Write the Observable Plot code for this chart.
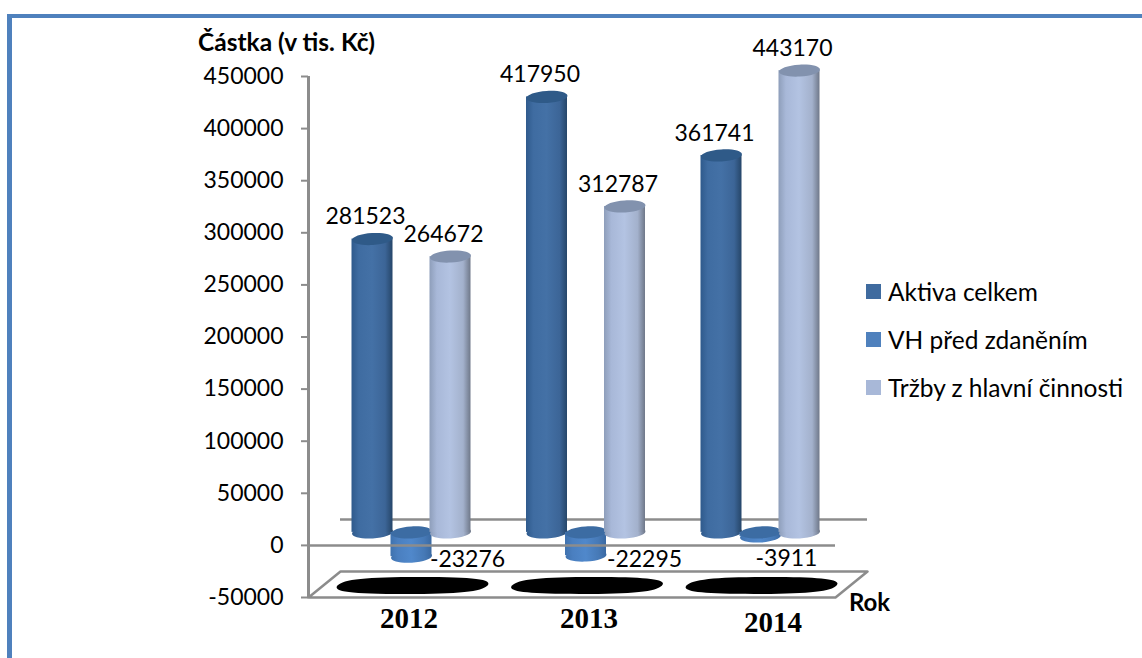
<!DOCTYPE html>
<html lang="cs">
<head>
<meta charset="utf-8">
<script src="https://cdn.jsdelivr.net/npm/d3@7"></script>
<script src="https://cdn.jsdelivr.net/npm/@observablehq/plot@0.6"></script>
<style>
  html, body { margin: 0; padding: 0; background: #fff; }
  #page { position: relative; width: 1142px; height: 658px; overflow: hidden; font-family: Lato, sans-serif; color: #000; }
  #border { position: absolute; left: 7px; top: 14px; right: -10px; bottom: -10px; border-style: solid; border-color: #4f81bd; border-width: 4px 5px 5px 5px; }
  #chart { position: absolute; left: 0; top: 0; }
  #legend { position: absolute; left: 866px; top: 267px; font-size: 24.5px; white-space: nowrap; }
  #legend div { display: flex; align-items: center; height: 48px; }
  #legend span { display: block; width: 15px; height: 15px; margin-right: 7px; }
</style>
</head>
<body>
<div id="page"><div id="border"></div><div id="chart"></div><div id="legend"></div></div>
<script>
// Company results per year, in thousands of CZK
const years = [2012, 2013, 2014];
const seriesNames = ["Aktiva celkem", "VH před zdaněním", "Tržby z hlavní činnosti"];
const aktiva = [281523, 417950, 361741];
const vh = [-23276, -22295, -3911];
const trzby = [264672, 312787, 443170];
const yTicks = [-50000, 0, 50000, 100000, 150000, 200000, 250000, 300000, 350000, 400000, 450000];

// Appearance of each series: body gradient stops, cap colour, legend swatch
const looks = [
  {stops: ["#2f5a8c", "#3f6ca1", "#4471a6", "#3c6597", "#264669"], cap: "#2f5a88", swatch: "#3f6b9f"},
  {stops: ["#3f72ae", "#4a7fc0", "#5088cb", "#4679b6", "#3a69a2"], cap: "#3c6ca3", swatch: "#4f81bd"},
  {stops: ["#8e9eba", "#a8b8d8", "#b3c3e2", "#a3b1cc", "#6f7889"], cap: "#8292ae", swatch: "#a8b8d8"}
];
const stopOffsets = [0, 0.18, 0.5, 0.82, 1];

// One cluster per year: position along x is the year plus a slot offset per series
const yearStep = 174.5;
const slot = 39 / yearStep;
const half = 20.5 / yearStep;
const values = [aktiva, vh, trzby];
const xAt = (px) => 2012 + (px - 411) / yearStep;

// Label offsets in pixels from the end of each cylinder, by series then year
const labelShift = [
  [[-7, -35], [-7, -35], [-7, -35]],
  [[56, -10], [58.5, -9], [26, 9]],
  [[-7, -35], [-7, -35], [-7, -35]]
];
const yearShift = [[-2.5, 21], [3, 21], [12.5, 25]];
const depth = -13; // the cylinders stand behind the front zero line

const rows = values.flatMap((vals, s) => vals.map((value, i) => ({
  year: years[i], s, value, x: years[i] + (s - 1) * slot, shift: labelShift[s][i]
})));

// Flattened disc, slightly tilted, for the cylinder ends
function disc(rx, ry, tilt) {
  const c = Math.cos(tilt), s = Math.sin(tilt), k = 0.5523;
  const p = (x, y) => [x * c - y * s, x * s + y * c];
  return {
    draw(ctx) {
      ctx.moveTo(...p(rx, 0));
      ctx.bezierCurveTo(...p(rx, k * ry), ...p(k * rx, ry), ...p(0, ry));
      ctx.bezierCurveTo(...p(-k * rx, ry), ...p(-rx, k * ry), ...p(-rx, 0));
      ctx.bezierCurveTo(...p(-rx, -k * ry), ...p(-k * rx, -ry), ...p(0, -ry));
      ctx.bezierCurveTo(...p(k * rx, -ry), ...p(rx, -k * ry), ...p(rx, 0));
      ctx.closePath();
    }
  };
}

// Skewed blob for the smudged labels lying on the floor
function smudge(rx, ry, skew) {
  const k = 0.72;
  const p = (x, y) => [x - y * skew, y];
  return {
    draw(ctx) {
      ctx.moveTo(...p(rx, 0));
      ctx.bezierCurveTo(...p(rx, k * ry), ...p(k * rx, ry), ...p(0, ry));
      ctx.bezierCurveTo(...p(-k * rx, ry), ...p(-rx, k * ry), ...p(-rx, 0));
      ctx.bezierCurveTo(...p(-rx, -k * ry), ...p(-k * rx, -ry), ...p(0, -ry));
      ctx.bezierCurveTo(...p(k * rx, -ry), ...p(rx, -k * ry), ...p(rx, 0));
      ctx.closePath();
    }
  };
}

function gradients() {
  const defs = d3.create("svg:defs");
  looks.forEach((look, i) => {
    const g = defs.append("linearGradient").attr("id", `body${i}`);
    stopOffsets.forEach((o, j) => g.append("stop").attr("offset", o).attr("stop-color", look.stops[j]));
  });
  return defs.node();
}

const grey = "#8c8c8c";
const end = disc(20.5, 6, -0.06);
const rowsOf = (s) => rows.filter((d) => d.s === s);

// Cylinder: lower disc and body in the gradient, cap on the upper end
const cylinder = (s) => {
  const data = rowsOf(s);
  const body = `url(#body${s})`;
  const lower = (d) => Math.min(0, d.value);
  const upper = (d) => Math.max(0, d.value);
  return [
    Plot.dot(data, {x: "x", y: lower, symbol: end, fill: body, dy: depth}),
    Plot.rect(data, {x1: (d) => d.x - half, x2: (d) => d.x + half, y1: lower, y2: upper, fill: body, dy: depth}),
    Plot.dot(data, {x: "x", y: upper, symbol: end, fill: looks[s].cap, dy: depth})
  ];
};

const floor = [
  [xAt(308), -50000], [xAt(835), -50000], [xAt(867), -25000], [xAt(340), -25000], [xAt(308), -50000]
];

const chart = Plot.plot({
  width: 1142,
  height: 658,
  marginLeft: 308,
  marginRight: 0,
  marginTop: 0,
  marginBottom: 0,
  style: {fontFamily: "Lato, sans-serif", background: "transparent", color: "#000", overflow: "visible"},
  x: {domain: [xAt(0), xAt(1142)], range: [0, 1142], axis: null},
  y: {domain: [-50000, 450000], range: [597, 76], axis: null},
  marks: [
    gradients,
    // Back wall baseline and floor
    Plot.ruleY([0], {x1: xAt(340), x2: xAt(867), stroke: grey, strokeWidth: 2.5, dy: -26}),
    Plot.line(floor, {x: "0", y: "1", stroke: grey, strokeWidth: 2.5}),
    // Category labels lost on the floor render as black smudges
    Plot.dot(years, {x: (d) => d, y: () => -37500, dx: 1, dy: 1, symbol: smudge(75, 8.5, 0.9), fill: "#000"}),
    cylinder(0),
    cylinder(1),
    cylinder(2),
    // Front zero line and value axis
    Plot.ruleY([0], {x1: xAt(308), x2: xAt(835), stroke: grey, strokeWidth: 2.5}),
    Plot.axisY({
      ticks: yTicks, tickFormat: (d) => String(d), tickSize: 7, tickPadding: 18,
      stroke: grey, strokeWidth: 2, fontSize: 23, fill: "#000"
    }),
    Plot.ruleX([xAt(308)], {y1: -50000, y2: 450000, stroke: grey, strokeWidth: 3}),
    // Value labels, each nudged clear of its cylinder
    rows.map((d) => Plot.text([d], {
      x: "x", y: "value", text: (r) => String(r.value),
      dx: d.shift[0], dy: d.shift[1], fontSize: 23, fill: "#000"
    })),
    // Year labels below the floor
    years.map((year, i) => Plot.text([year], {
      x: (d) => d, y: () => -50000, text: (d) => String(d),
      dx: yearShift[i][0], dy: yearShift[i][1],
      fontFamily: "'Liberation Serif', serif", fontWeight: "bold", fontSize: 29, fill: "#000"
    })),
    Plot.text(["Rok"], {x: () => xAt(869), y: () => -50000, text: (d) => d, dy: 6, fontWeight: "bold", fontSize: 24, fill: "#000"}),
    Plot.text(["Částka (v tis. Kč)"], {x: () => xAt(286), y: () => 450000, text: (d) => d, dy: -33, fontWeight: "bold", fontSize: 24.5, fill: "#000"})
  ]
});
document.getElementById("chart").append(chart);

// Legend to the right of the plot
const legend = document.getElementById("legend");
seriesNames.forEach((name, i) => {
  const row = document.createElement("div");
  const sw = document.createElement("span");
  sw.style.background = looks[i].swatch;
  row.append(sw, name);
  legend.append(row);
});
</script>
</body>
</html>
